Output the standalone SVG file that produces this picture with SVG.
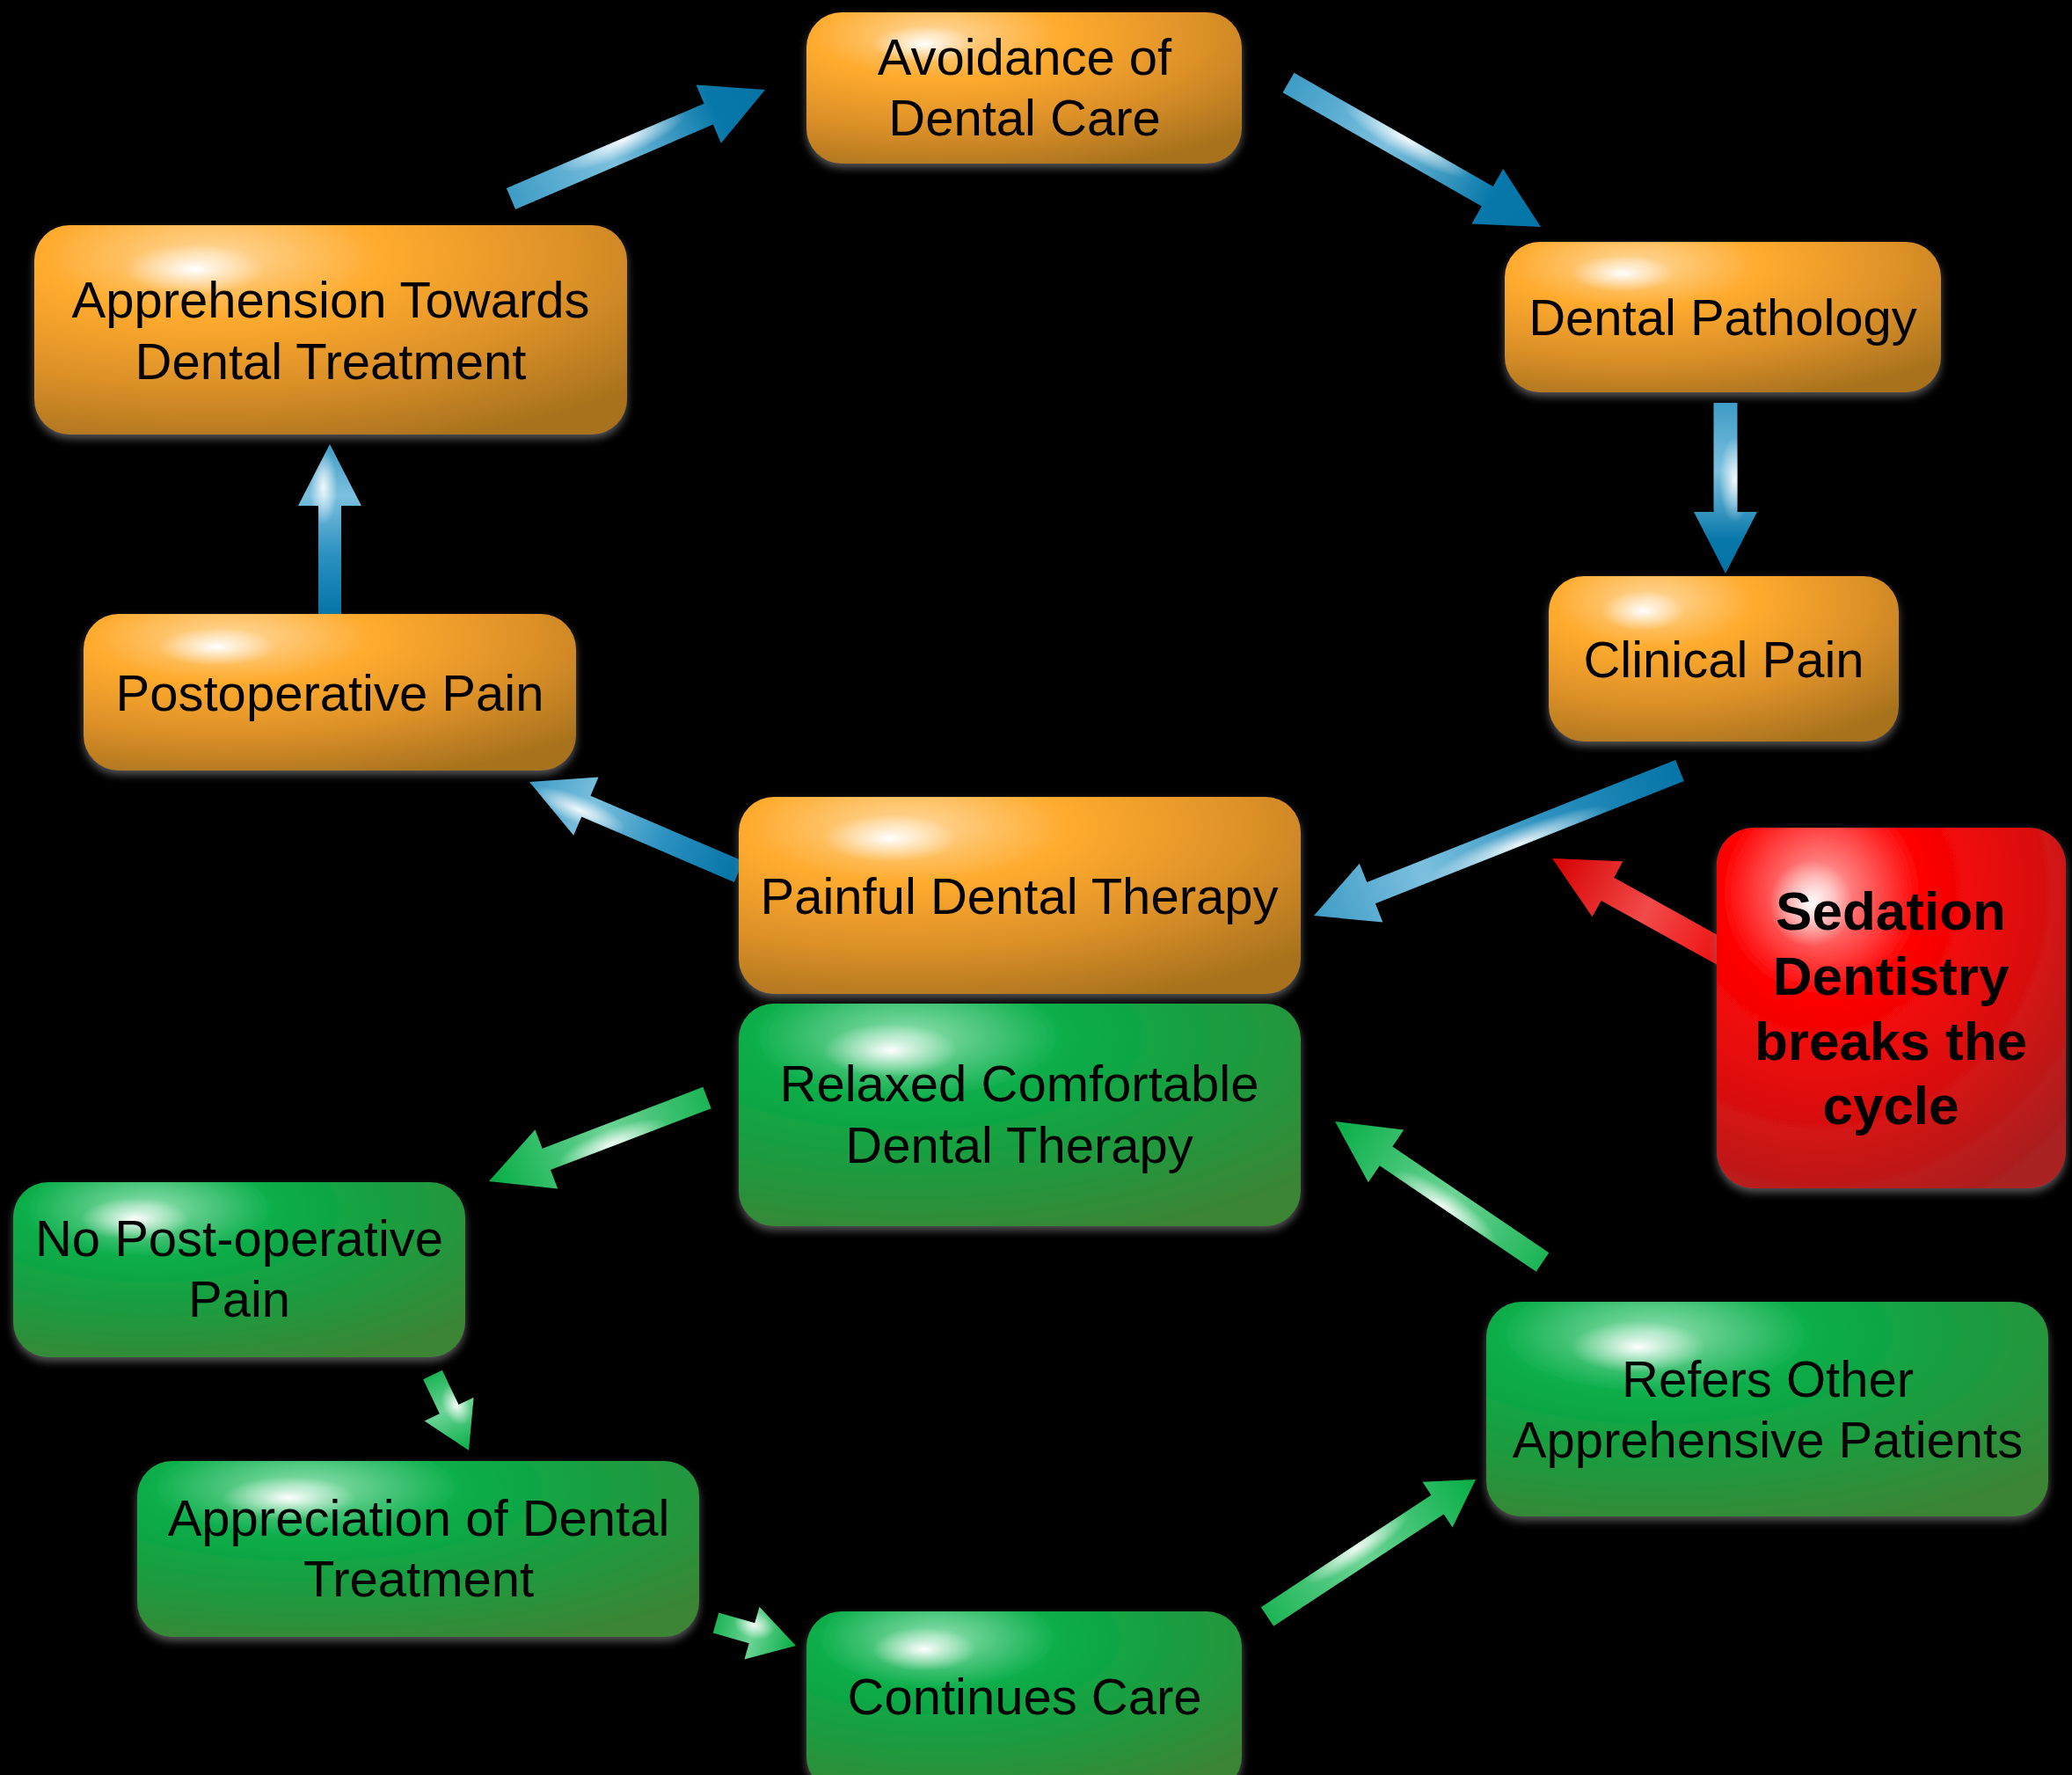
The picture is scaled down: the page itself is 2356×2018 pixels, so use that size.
<svg xmlns="http://www.w3.org/2000/svg" width="2356" height="2018" viewBox="0 0 2356 2018">
<style>
.t{font-family:"Liberation Sans",Arial,sans-serif;font-size:58px;fill:#000;text-anchor:middle}
.b{font-family:"Liberation Sans",Arial,sans-serif;font-size:62px;font-weight:bold;fill:#000;text-anchor:middle}
.box{filter:url(#glow)}
.or{fill:url(#gOr)}
.gr{fill:url(#gGr)}
.rd{fill:url(#gRd)}
.spot{fill:url(#spot)}
.ab{fill:url(#aBlue)}
.ab2{fill:url(#aBlue2)}
.ag{fill:url(#aGreen)}
.ar{fill:url(#aRed)}
.ah{fill:url(#aHi)}
.ah2{fill:url(#aHi2)}
</style>
<defs>
<filter id="glow" x="-10%" y="-10%" width="120%" height="130%">
<feDropShadow dx="0" dy="5" stdDeviation="5" flood-color="#777" flood-opacity="0.7"/>
</filter>
<radialGradient id="gOr" cx="0.3" cy="0.15" r="0.95" fx="0.3" fy="0.15">
<stop offset="0" stop-color="#ffd89c"/>
<stop offset="0.3" stop-color="#ffab2e"/>
<stop offset="0.65" stop-color="#dc9028"/>
<stop offset="1" stop-color="#a8721e"/>
</radialGradient>
<radialGradient id="gGr" cx="0.3" cy="0.15" r="0.95" fx="0.3" fy="0.15">
<stop offset="0" stop-color="#8fe0b0"/>
<stop offset="0.3" stop-color="#08ad48"/>
<stop offset="0.65" stop-color="#1f9a3e"/>
<stop offset="1" stop-color="#3a8535"/>
</radialGradient>
<radialGradient id="gRd" cx="0.3" cy="0.18" r="0.95" fx="0.3" fy="0.18">
<stop offset="0" stop-color="#ffb0b0"/>
<stop offset="0.3" stop-color="#ff0202"/>
<stop offset="0.65" stop-color="#da1010"/>
<stop offset="1" stop-color="#aa2020"/>
</radialGradient>
<radialGradient id="spot" cx="0.27" cy="0.21" r="0.12">
<stop offset="0" stop-color="#fff" stop-opacity="1"/>
<stop offset="0.4" stop-color="#fff" stop-opacity="0.55"/>
<stop offset="1" stop-color="#fff" stop-opacity="0"/>
</radialGradient>
<linearGradient id="aBlue" x1="0" y1="0" x2="1" y2="0">
<stop offset="0" stop-color="#3e9cc6"/>
<stop offset="0.4" stop-color="#7cc0de"/>
<stop offset="0.8" stop-color="#0878aa"/>
<stop offset="1" stop-color="#0474a6"/>
</linearGradient>
<linearGradient id="aBlue2" x1="0" y1="0" x2="1" y2="0">
<stop offset="0" stop-color="#0474a6"/>
<stop offset="0.35" stop-color="#2a90bf"/>
<stop offset="0.7" stop-color="#7cc0de"/>
<stop offset="1" stop-color="#3e9cc6"/>
</linearGradient>
<linearGradient id="aGreen" x1="0" y1="0" x2="1" y2="0">
<stop offset="0" stop-color="#1cb455"/>
<stop offset="0.45" stop-color="#6cd496"/>
<stop offset="1" stop-color="#06ad45"/>
</linearGradient>
<linearGradient id="aRed" x1="0" y1="0" x2="1" y2="0">
<stop offset="0" stop-color="#ee1010"/>
<stop offset="0.45" stop-color="#f24a4a"/>
<stop offset="1" stop-color="#d60000"/>
</linearGradient>
<radialGradient id="aHi" cx="0.45" cy="0.35" r="0.25">
<stop offset="0" stop-color="#fff" stop-opacity="0.9"/>
<stop offset="1" stop-color="#fff" stop-opacity="0"/>
</radialGradient>
<radialGradient id="aHi2" cx="0.75" cy="0.4" r="0.22">
<stop offset="0" stop-color="#fff" stop-opacity="0.9"/>
<stop offset="1" stop-color="#fff" stop-opacity="0"/>
</radialGradient>
</defs>
<rect x="0" y="0" width="2356" height="2018" fill="#000"/>

<g id="connectors">
<g transform="translate(581,226) rotate(-23.22)"><polygon class="ab" points="0,-13 244.5,-13 244.5,-36 314.5,0 244.5,36 244.5,13 0,13"/><polygon class="ah" points="0,-13 244.5,-13 244.5,-36 314.5,0 244.5,36 244.5,13 0,13"/></g>
<g transform="translate(1465,94) rotate(29.75)"><polygon class="ab" points="0,-13 260.6,-13 260.6,-36 330.6,0 260.6,36 260.6,13 0,13"/><polygon class="ah" points="0,-13 260.6,-13 260.6,-36 330.6,0 260.6,36 260.6,13 0,13"/></g>
<g transform="translate(1962,458) rotate(90)"><polygon class="ab" points="0,-13.5 124,-13.5 124,-36 194,0 124,36 124,13.5 0,13.5"/><polygon class="ah" points="0,-13.5 124,-13.5 124,-36 194,0 124,36 124,13.5 0,13.5"/></g>
<g transform="translate(1910,876) rotate(158.37)"><polygon class="ab2" points="0,-13 377.5,-13 377.5,-36 447.5,0 377.5,36 377.5,13 0,13"/><polygon class="ah" points="0,-13 377.5,-13 377.5,-36 447.5,0 377.5,36 377.5,13 0,13"/></g>
<g transform="translate(840,991) rotate(-156.8)"><polygon class="ab2" points="0,-13 188.9,-13 188.9,-36 258.9,0 188.9,36 188.9,13 0,13"/><polygon class="ah2" points="0,-13 188.9,-13 188.9,-36 258.9,0 188.9,36 188.9,13 0,13"/></g>
<g transform="translate(375,700) rotate(-90)"><polygon class="ab2" points="0,-13 125,-13 125,-36 195,0 125,36 125,13 0,13"/><polygon class="ah2" points="0,-13 125,-13 125,-36 195,0 125,36 125,13 0,13"/></g>
<g transform="translate(1960,1084) rotate(-151)"><polygon class="ar" points="0,-15 151,-15 151,-36 223,0 151,36 151,15 0,15"/></g>
<g transform="translate(804,1248) rotate(159.04)"><polygon class="ag" points="0,-13 195.6,-13 195.6,-36 265.6,0 195.6,36 195.6,13 0,13"/><polygon class="ah" points="0,-13 195.6,-13 195.6,-36 265.6,0 195.6,36 195.6,13 0,13"/></g>
<g transform="translate(492,1563) rotate(64.5)"><polygon class="ag" points="0,-12 43.3,-12 43.3,-31 95.3,0 43.3,31 43.3,12 0,12"/><polygon class="ah" points="0,-12 43.3,-12 43.3,-31 95.3,0 43.3,31 43.3,12 0,12"/></g>
<g transform="translate(814,1845) rotate(15.9)"><polygon class="ag" points="0,-12 42.6,-12 42.6,-31 94.6,0 42.6,31 42.6,12 0,12"/><polygon class="ah" points="0,-12 42.6,-12 42.6,-31 94.6,0 42.6,31 42.6,12 0,12"/></g>
<g transform="translate(1441,1838) rotate(-33.36)"><polygon class="ag" points="0,-13 231.7,-13 231.7,-31 283.7,0 231.7,31 231.7,13 0,13"/><polygon class="ah" points="0,-13 231.7,-13 231.7,-31 283.7,0 231.7,31 231.7,13 0,13"/></g>
<g transform="translate(1754,1435) rotate(-145.87)"><polygon class="ag" points="0,-13 215,-13 215,-36 285,0 215,36 215,13 0,13"/><polygon class="ah" points="0,-13 215,-13 215,-36 285,0 215,36 215,13 0,13"/></g>
</g>

<g id="n-avoidance" class="box"><rect class="or" x="917" y="14" width="495" height="172" rx="40"/><rect class="spot" x="917" y="14" width="495" height="172" rx="40"/>
<text class="t" x="1165" y="85">Avoidance of</text><text class="t" x="1165" y="154">Dental Care</text></g>

<g id="n-pathology" class="box"><rect class="or" x="1711" y="275" width="496" height="171" rx="40"/><rect class="spot" x="1711" y="275" width="496" height="171" rx="40"/>
<text class="t" x="1959" y="381">Dental Pathology</text></g>

<g id="n-clinical" class="box"><rect class="or" x="1761" y="655" width="398" height="188" rx="40"/><rect class="spot" x="1761" y="655" width="398" height="188" rx="40"/>
<text class="t" x="1960" y="770">Clinical Pain</text></g>

<g id="n-painful" class="box"><rect class="or" x="840" y="906" width="639" height="224" rx="40"/><rect class="spot" x="840" y="906" width="639" height="224" rx="40"/>
<text class="t" x="1159" y="1039">Painful Dental Therapy</text></g>

<g id="n-postop" class="box"><rect class="or" x="95" y="698" width="560" height="178" rx="40"/><rect class="spot" x="95" y="698" width="560" height="178" rx="40"/>
<text class="t" x="375" y="808">Postoperative Pain</text></g>

<g id="n-apprehension" class="box"><rect class="or" x="39" y="256" width="674" height="238" rx="40"/><rect class="spot" x="39" y="256" width="674" height="238" rx="40"/>
<text class="t" x="376" y="361">Apprehension Towards</text><text class="t" x="376" y="431">Dental Treatment</text></g>

<g id="n-sedation" class="box"><rect class="rd" x="1952" y="941" width="397" height="410" rx="42"/><rect class="spot" x="1952" y="941" width="397" height="410" rx="42"/>
<text class="b" x="2150" y="1057">Sedation</text><text class="b" x="2150" y="1131">Dentistry</text><text class="b" x="2150" y="1205">breaks the</text><text class="b" x="2150" y="1278">cycle</text></g>

<g id="n-relaxed" class="box"><rect class="gr" x="840" y="1141" width="639" height="253" rx="40"/><rect class="spot" x="840" y="1141" width="639" height="253" rx="40"/>
<text class="t" x="1159" y="1252">Relaxed Comfortable</text><text class="t" x="1159" y="1322">Dental Therapy</text></g>

<g id="n-nopostop" class="box"><rect class="gr" x="15" y="1344" width="514" height="199" rx="40"/><rect class="spot" x="15" y="1344" width="514" height="199" rx="40"/>
<text class="t" x="272" y="1428">No Post-operative</text><text class="t" x="272" y="1497">Pain</text></g>

<g id="n-appreciation" class="box"><rect class="gr" x="156" y="1661" width="639" height="200" rx="40"/><rect class="spot" x="156" y="1661" width="639" height="200" rx="40"/>
<text class="t" x="476" y="1746">Appreciation of Dental</text><text class="t" x="476" y="1815">Treatment</text></g>

<g id="n-continues" class="box"><rect class="gr" x="917" y="1832" width="495" height="205" rx="40"/><rect class="spot" x="917" y="1832" width="495" height="205" rx="40"/>
<text class="t" x="1165" y="1949">Continues Care</text></g>

<g id="n-refers" class="box"><rect class="gr" x="1690" y="1480" width="639" height="244" rx="40"/><rect class="spot" x="1690" y="1480" width="639" height="244" rx="40"/>
<text class="t" x="2010" y="1588">Refers Other</text><text class="t" x="2010" y="1657">Apprehensive Patients</text></g>
</svg>
